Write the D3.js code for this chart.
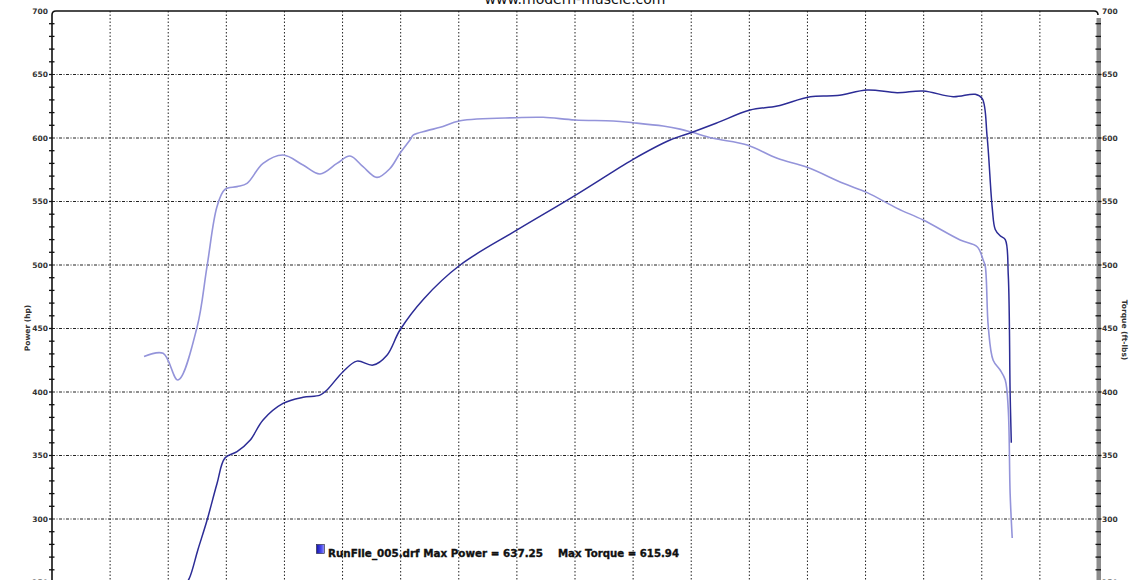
<!DOCTYPE html>
<html>
<head>
<meta charset="utf-8">
<script src="https://cdn.jsdelivr.net/npm/d3@7"></script>
<style>
  html, body { margin: 0; padding: 0; background: #fff; }
  svg { display: block; }
</style>
</head>
<body>
<svg id="chart" width="1140" height="580"></svg>
<script>
// ---- data ----
const titleText = "www.modern-muscle.com";
const leftAxisTitle = "Power (hp)";
const rightAxisTitle = "Torque (ft-lbs)";
const legendName = "RunFile_005.drf Max Power = 637.25";
const legendTorque = "Max Torque = 615.94";

const yTicks = [250, 300, 350, 400, 450, 500, 550, 600, 650, 700];
const xGridTicks = [2250, 2500, 2750, 3000, 3250, 3500, 3750, 4000, 4250, 4500, 4750, 5000, 5250, 5500, 5750, 6000, 6250];

// RPM (approximate, not labelled in reference)
const torqueRpm = [2396, 2478, 2542, 2624, 2667, 2710, 2744, 2796, 2839, 2908, 2994, 3080, 3153, 3226, 3282, 3338, 3398, 3454, 3497, 3540, 3555, 3614, 3670, 3756, 4001, 4113, 4250, 4414, 4500, 4629, 4702, 4754, 4844, 4991, 5120, 5249, 5404, 5507, 5636, 5748, 5907, 5980, 6006, 6015, 6028, 6049, 6079, 6101, 6114, 6122, 6131];
const torqueVal = [428, 430.5, 409.5, 451, 499, 546, 559.5, 561.7, 564.3, 580, 586.6, 578.7, 571.7, 580, 585.8, 577.4, 569, 576, 588, 598.4, 602.4, 605.8, 608.4, 613.6, 616, 616.3, 614.2, 613.4, 612, 609.4, 607, 604.5, 599.8, 594.5, 584, 576.9, 564.3, 557, 544.6, 535.4, 519.7, 514.4, 504, 499, 451.4, 425, 417.3, 409.5, 386, 320, 285];

const powerRpm = [2560, 2590, 2628, 2667, 2710, 2744, 2796, 2852, 2908, 2994, 3080, 3153, 3183, 3252, 3312, 3381, 3441, 3497, 3600, 3756, 4001, 4242, 4414, 4500, 4659, 4754, 4857, 5003, 5120, 5262, 5378, 5507, 5636, 5748, 5877, 5972, 6002, 6023, 6045, 6058, 6079, 6101, 6114, 6122, 6127];
const powerVal = [245, 253, 276, 299, 328, 348, 353, 362, 378, 391, 395.8, 397.5, 401.6, 416, 424.3, 421.2, 429, 448.8, 473.5, 500, 527.6, 553.8, 573.5, 583.2, 598.4, 604.5, 611.6, 622, 625.2, 632.5, 633.4, 637.8, 635.7, 637, 632.5, 634.4, 631, 601, 545, 528, 523, 520, 492, 399, 360];

// ---- layout ----
const svg = d3.select("#chart");
const pLeft = 52, pRight = 1098, pTop = 11, pBottom = 582.5;

const x = d3.scaleLinear().domain([2000, 6500]).range([pLeft, pRight]);
const y = d3.scaleLinear().domain([250, 700]).range([pBottom, pTop]);

// title (cut off at top, as in the reference)
svg.append("text")
  .attr("x", 575).attr("y", 4)
  .attr("text-anchor", "middle")
  .attr("font-family", "DejaVu Sans, Verdana, sans-serif")
  .attr("font-size", 14)
  .attr("fill", "#111")
  .text(titleText);

// horizontal gridlines
svg.append("g").selectAll("line")
  .data(yTicks.filter(d => d < 700))
  .join("line")
  .attr("x1", pLeft).attr("x2", pRight)
  .attr("y1", d => y(d)).attr("y2", d => y(d))
  .attr("stroke", "#222").attr("stroke-width", 1)
  .attr("stroke-dasharray", "3,1.5,1,1.5");

// vertical gridlines
svg.append("g").selectAll("line")
  .data(xGridTicks)
  .join("line")
  .attr("x1", d => x(d)).attr("x2", d => x(d))
  .attr("y1", pTop).attr("y2", 580)
  .attr("stroke", "#222").attr("stroke-width", 1)
  .attr("stroke-dasharray", "1.5,2");

// top frame + left axis with rounded corner
svg.append("path")
  .attr("d", `M${pLeft},${pBottom} L${pLeft},${pTop + 4} Q${pLeft},${pTop} ${pLeft + 4},${pTop} L${pRight - 4},${pTop} Q${pRight},${pTop} ${pRight},${pTop + 4}`)
  .attr("fill", "none").attr("stroke", "#111").attr("stroke-width", 1.6);

// right axis gray bar
svg.append("rect")
  .attr("x", pRight - 1.5).attr("y", pTop + 7)
  .attr("width", 4.5).attr("height", pBottom - pTop)
  .attr("fill", "#8c8c8c");

// minor ticks (every 10)
const minor = d3.range(250, 701, 10);
svg.append("g").selectAll("line")
  .data(minor.filter(d => d % 50 !== 0))
  .join("line")
  .attr("x1", pLeft - 3).attr("x2", pLeft + 2.5)
  .attr("y1", d => y(d)).attr("y2", d => y(d))
  .attr("stroke", "#111").attr("stroke-width", 1.3);
svg.append("g").selectAll("line")
  .data(minor.filter(d => d % 50 !== 0 && d < 700))
  .join("line")
  .attr("x1", pRight - 2.5).attr("x2", pRight + 3)
  .attr("y1", d => y(d)).attr("y2", d => y(d))
  .attr("stroke", "#111").attr("stroke-width", 1.3);

// major ticks
svg.append("g").selectAll("line")
  .data(yTicks.filter(d => d < 700))
  .join("line")
  .attr("x1", pLeft - 3).attr("x2", pLeft)
  .attr("y1", d => y(d)).attr("y2", d => y(d))
  .attr("stroke", "#111").attr("stroke-width", 1.3);
svg.append("g").selectAll("line")
  .data(yTicks.filter(d => d < 700))
  .join("line")
  .attr("x1", pRight).attr("x2", pRight + 3.5)
  .attr("y1", d => y(d)).attr("y2", d => y(d))
  .attr("stroke", "#111").attr("stroke-width", 1.3);

// tick labels
const tickFont = "DejaVu Sans, Verdana, sans-serif";
svg.append("g").selectAll("text")
  .data(yTicks)
  .join("text")
  .attr("x", pLeft - 4).attr("y", d => y(d))
  .attr("dy", "0.35em")
  .attr("text-anchor", "end")
  .attr("font-family", tickFont).attr("font-weight", "bold")
  .attr("font-size", 7.5).attr("fill", "#333")
  .text(d => d);
svg.append("g").selectAll("text")
  .data(yTicks)
  .join("text")
  .attr("x", pRight + 4).attr("y", d => y(d))
  .attr("dy", "0.35em")
  .attr("text-anchor", "start")
  .attr("font-family", tickFont).attr("font-weight", "bold")
  .attr("font-size", 7.5).attr("fill", "#333")
  .text(d => d);

// axis titles
svg.append("text")
  .attr("transform", "translate(30,328) rotate(-90)")
  .attr("text-anchor", "middle")
  .attr("font-family", tickFont).attr("font-weight", "bold")
  .attr("font-size", 7.5).attr("fill", "#333")
  .text(leftAxisTitle);
svg.append("text")
  .attr("transform", "translate(1122,330) rotate(90)")
  .attr("text-anchor", "middle")
  .attr("font-family", tickFont).attr("font-weight", "bold")
  .attr("font-size", 7.5).attr("fill", "#333")
  .text(rightAxisTitle);

// curves
const line = d3.line()
  .x(d => x(d[0])).y(d => y(d[1]))
  .curve(d3.curveCatmullRom.alpha(0.5));

svg.append("path")
  .datum(d3.zip(torqueRpm, torqueVal))
  .attr("d", line)
  .attr("fill", "none")
  .attr("stroke", "#9494da").attr("stroke-width", 1.6);

svg.append("path")
  .datum(d3.zip(powerRpm, powerVal))
  .attr("d", line)
  .attr("fill", "none")
  .attr("stroke", "#2c2c96").attr("stroke-width", 1.5);

// legend
const lg = svg.append("g");
const grad = svg.append("defs").append("linearGradient")
  .attr("id", "lgGrad").attr("x1", 0).attr("x2", 1).attr("y1", 0).attr("y2", 0);
grad.append("stop").attr("offset", "0%").attr("stop-color", "#1414a8");
grad.append("stop").attr("offset", "60%").attr("stop-color", "#4a4af0");
grad.append("stop").attr("offset", "100%").attr("stop-color", "#9a9af8");
lg.append("rect")
  .attr("x", 316.5).attr("y", 544.5).attr("width", 8).attr("height", 9)
  .attr("fill", "url(#lgGrad)").attr("stroke", "#223").attr("stroke-width", 0.6);
lg.append("text")
  .attr("x", 328).attr("y", 556.5)
  .attr("font-family", "DejaVu Sans, Verdana, sans-serif").attr("font-weight", "bold")
  .attr("font-size", 10.5).attr("fill", "#111")
  .attr("stroke", "#111").attr("stroke-width", 0.35)
  .attr("textLength", 215).attr("lengthAdjust", "spacingAndGlyphs")
  .text(legendName);
lg.append("text")
  .attr("x", 558).attr("y", 556.5)
  .attr("font-family", "DejaVu Sans, Verdana, sans-serif").attr("font-weight", "bold")
  .attr("font-size", 10.5).attr("fill", "#111")
  .attr("stroke", "#111").attr("stroke-width", 0.35)
  .attr("textLength", 121).attr("lengthAdjust", "spacingAndGlyphs")
  .text(legendTorque);
</script>
</body>
</html>
